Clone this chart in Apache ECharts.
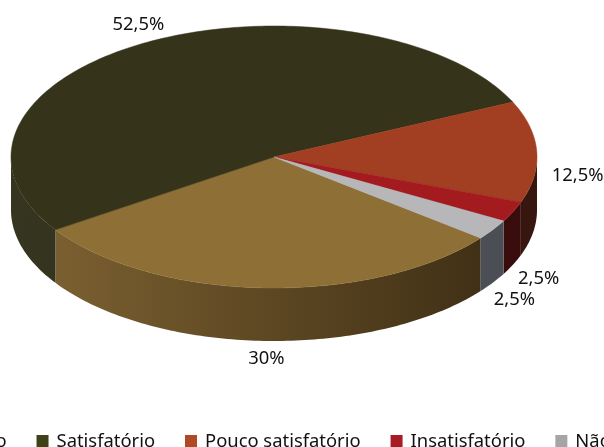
<!DOCTYPE html>
<html><head><meta charset="utf-8">
<script src="https://cdn.jsdelivr.net/npm/echarts@6/dist/echarts.min.js"></script>
<style>html,body{margin:0;padding:0;background:#fff;overflow:hidden}#c{width:604px;height:447px}</style>
</head><body><div id="c"></div>
<script>
const categories = ['Muito satisfatório', 'Satisfatório', 'Pouco satisfatório', 'Insatisfatório', 'Não respondeu'];
const values = [30, 52.5, 12.5, 2.5, 2.5];
const labelTexts = ['30%', '52,5%', '12,5%', '2,5%', '2,5%'];

const legendColors = ['#9a7b3f', '#3f4219', '#b04925', '#a71c22', '#a5a5a5'];
const topColors = ['#8e7037', '#35331a', '#a23e21', '#a31a1f', '#b7b7b9'];
const sideLeft = ['#806433', '#363520', '#4a2216', '#4a1212', '#56595f'];
const sideRight = ['#392a12', '#262514', '#36160e', '#380c0c', '#4a4d53'];

const CX = 274, CY = 157, RX = 263, RY = 131, DEPTH = 53, START = 38.2;
const FONT = '"Noto Sans", sans-serif';
const FS = 18.4;
const total = values.reduce((a, b) => a + b, 0);

function sliceAngles(i) {
  let s = START;
  for (let k = 0; k < i; k++) s += values[k] / total * 360;
  return [s, s + values[i] / total * 360];
}
function pt(deg, dy) {
  const r = deg * Math.PI / 180;
  return [CX + RX * Math.cos(r), CY + RY * Math.sin(r) + (dy || 0)];
}
function arc(a, b, dy) {
  const pts = [];
  const n = Math.max(2, Math.ceil(Math.abs(b - a) / 1));
  for (let j = 0; j <= n; j++) pts.push(pt(a + (b - a) * j / n, dy));
  return pts;
}

function makeRender(i) {
  return function (params, api) {
    const [a, b] = sliceAngles(i);
    const children = [];
    for (let k = -1; k <= 2; k++) {
      const lo = Math.max(a, 360 * k), hi = Math.min(b, 360 * k + 180);
      if (hi > lo) {
        const pts = arc(lo, hi, 0).concat(arc(hi, lo, DEPTH));
        children.push({
          type: 'polygon', shape: { points: pts },
          style: {
            fill: new echarts.graphic.LinearGradient(CX - RX, 0, CX + RX, 0,
              [{ offset: 0, color: sideLeft[i] }, { offset: 1, color: sideRight[i] }], true),
            stroke: null
          }
        });
      }
    }
    const topPts = [[CX, CY]].concat(arc(a, b, 0));
    children.push({
      type: 'polygon', shape: { points: topPts },
      style: { fill: topColors[i], stroke: topColors[i], lineWidth: 0.5 }
    });
    const m = (a + b) / 2, mr = m * Math.PI / 180;
    const s = Math.sin(mr), c = Math.cos(mr);
    const dy = DEPTH * Math.min(1, Math.max(0, 0.52 + 1.5 * s));
    const sc = Math.max(0, s * c);
    const rx = 1.14 - 0.13 * sc;
    const ry = 1.14 + 0.025 * Math.max(0, -s);
    const x = CX + 4 + RX * rx * c;
    const y = CY + RY * ry * s + dy + 0.14 * sc * Math.max(0, c) * RY;
    children.push({
      type: 'text', x: x, y: y,
      style: { text: labelTexts[i], fill: '#111', fontSize: FS, fontFamily: FONT, align: 'center', verticalAlign: 'middle' }
    });
    return { type: 'group', children: children };
  };
}

const series = categories.map((name, i) => ({
  type: 'custom',
  name: name,
  coordinateSystem: 'none',
  itemStyle: { color: legendColors[i] },
  data: [[values[i]]],
  renderItem: makeRender(i),
  silent: true
}));

const chart = echarts.init(document.getElementById('c'), null, { renderer: 'canvas' });
chart.setOption({
  animation: false,
  backgroundColor: '#fff',
  legend: {
    data: categories,
    left: -166, top: 433, width: 1400, padding: 0,
    orient: 'horizontal',
    icon: 'path://M0,0h12v14h-12z',
    itemWidth: 18, itemHeight: 14, itemGap: 30,
    selectedMode: false,
    textStyle: { fontSize: FS, fontFamily: FONT, color: '#111' }
  },
  series: series
});
</script></body></html>
